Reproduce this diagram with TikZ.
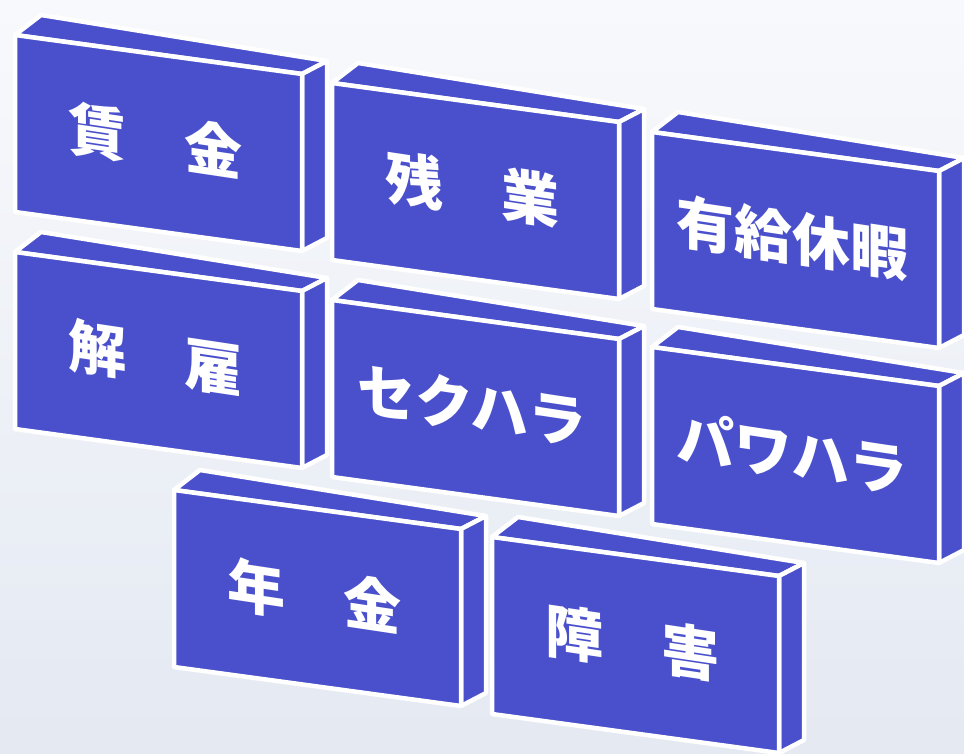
\documentclass[tikz,border=0pt]{standalone}
\usepackage{fontspec}
\newfontfamily\jpfont{Noto Sans CJK JP}
\definecolor{brickblue}{RGB}{74,80,204}
\definecolor{bgtop}{RGB}{248,249,252}
\definecolor{bgbot}{RGB}{228,233,242}
\tikzset{
  face/.style={fill=brickblue, draw=white, line width=4.5pt, line join=round},
  lbl/.style={text=white, inner sep=0pt, font=\jpfont\bfseries\fontsize{58}{60}\selectfont,
              yslant=-0.15, transform shape, anchor=center}
}
\newcommand\brick[4]{%
  \begin{scope}[shift={(#1,#2)}]
    \draw[face] (0,0) -- (26,-20) -- (312,26) -- (287,39) -- cycle;
    \draw[face] (287,39) -- (312,26) -- (312,203) -- (287,216) -- cycle;
    \draw[face] (0,0) -- (287,39) -- (287,216) -- (0,177) -- cycle;
    \node[lbl] (#3) at (140,106) {#4};
  \end{scope}}
\begin{document}
\begin{tikzpicture}[x=1pt,y=-1pt]
  \shade[top color=bgtop, bottom color=bgbot, use as bounding box] (0,0) rectangle (964,754);
  \clip (0,0) rectangle (964,754);
  \brick{15}{35}{chingin}{賃　金}
  \brick{332}{83}{zangyo}{残　業}
  \brick{652}{132}{yukyu}{有給休暇}
  \brick{15}{252}{kaiko}{解　雇}
  \brick{332}{300}{sekuhara}{セクハラ}
  \brick{652}{347}{pawahara}{パワハラ}
  \brick{174}{490}{nenkin}{年　金}
  \brick{492}{537}{shogai}{障　害}
\end{tikzpicture}
\end{document}
